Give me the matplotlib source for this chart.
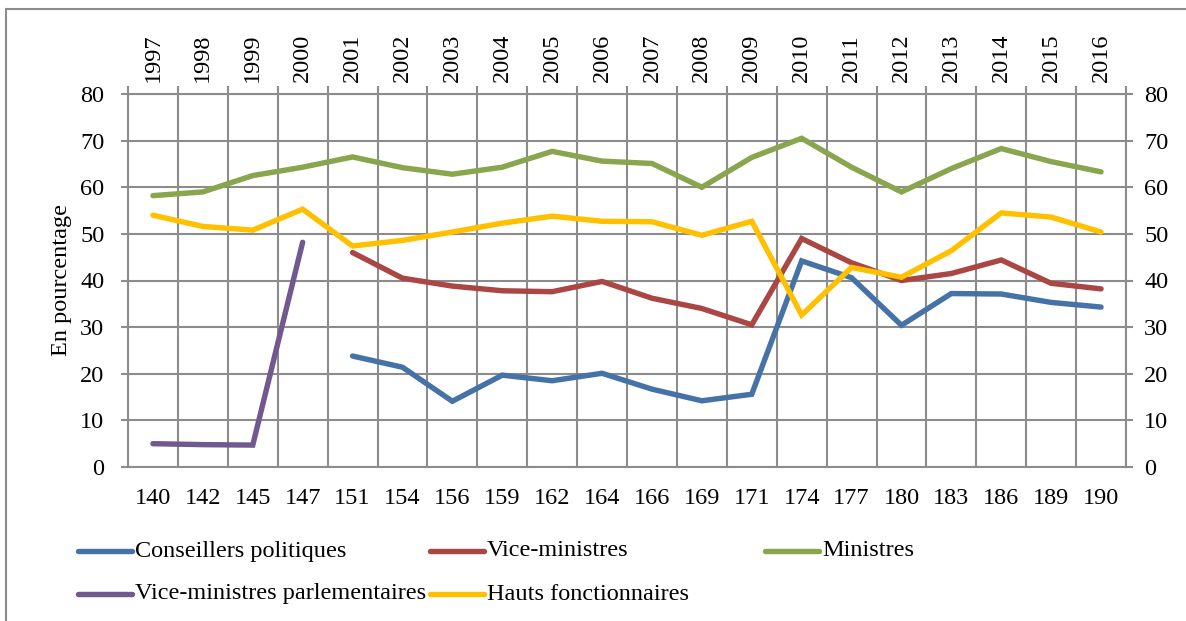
import matplotlib
matplotlib.use("Agg")
import matplotlib.pyplot as plt
from matplotlib.lines import Line2D
from matplotlib.patches import Rectangle
import numpy as np

plt.rcParams["font.family"] = ["Liberation Serif", "DejaVu Serif"]

# categories
years = [str(y) for y in range(1997, 2017)]
bottom_labels = ["140", "142", "145", "147", "151", "154", "156", "159", "162", "164",
                 "166", "169", "171", "174", "177", "180", "183", "186", "189", "190"]

# series (percent), None = no value
conseillers = [None, None, None, None, 23.8, 21.4, 14.1, 19.7, 18.5, 20.1,
               16.7, 14.2, 15.6, 44.2, 40.6, 30.4, 37.2, 37.1, 35.3, 34.3]
vice_ministres = [None, None, None, None, 46.0, 40.5, 38.8, 37.8, 37.6, 39.8,
                  36.2, 34.0, 30.5, 49.0, 43.8, 40.0, 41.5, 44.4, 39.4, 38.2]
ministres = [58.2, 59.0, 62.5, 64.3, 66.5, 64.2, 62.8, 64.3, 67.7, 65.6,
             65.1, 60.0, 66.4, 70.5, 64.3, 59.0, 64.0, 68.3, 65.5, 63.3]
vice_parl = [5.0, 4.8, 4.7, 48.2, None, None, None, None, None, None,
             None, None, None, None, None, None, None, None, None, None]
hauts = [54.0, 51.6, 50.8, 55.3, 47.4, 48.6, 50.4, 52.3, 53.8, 52.7,
         52.6, 49.7, 52.7, 32.6, 42.8, 40.7, 46.4, 54.5, 53.6, 50.4]

series = [
    ("Conseillers politiques", conseillers, "#4572A7"),
    ("Vice-ministres", vice_ministres, "#AA4643"),
    ("Ministres", ministres, "#89A54E"),
    ("Vice-ministres parlementaires", vice_parl, "#71588F"),
    ("Hauts fonctionnaires", hauts, "#FFC000"),
]

W, H = 1186, 621
fig = plt.figure(figsize=(W / 100, H / 100), dpi=100)
grid_c = "#8c8c8c"
fs = 17.5
lw = 3.9

ax = fig.add_axes([128 / W, 1 - 467 / H, (1126 - 128) / W, (467 - 94) / H])
x = np.arange(len(years))

for name, vals, col in series:
    y = np.array([np.nan if v is None else v for v in vals], dtype=float)
    ax.plot(x, y, color=col, lw=lw, solid_capstyle="round", solid_joinstyle="miter", zorder=3)

ax.set_xlim(-0.5, len(years) - 0.5)
ax.set_ylim(0, 80)
ax.set_yticks(range(0, 81, 10))
ax.set_xticks(x)
ax.set_xticklabels(bottom_labels, fontsize=fs)
ax.set_xticks(np.arange(-0.5, len(years)), minor=True)
ax.tick_params(axis="x", which="major", length=0, pad=15)
ax.tick_params(axis="x", which="minor", length=0)
ax.tick_params(axis="y", length=5, width=1.5, color=grid_c, labelsize=fs, pad=12)
ax.grid(True, axis="x", which="minor", color=grid_c, lw=1.5)
ax.grid(True, axis="y", which="major", color=grid_c, lw=1.5)
ax.set_axisbelow(True)
for s in ax.spines.values():
    s.set_color(grid_c)
    s.set_linewidth(1.5)
ax.set_ylabel("En pourcentage", fontsize=fs, labelpad=6)

# right axis
axr = ax.twinx()
axr.set_ylim(0, 80)
axr.set_yticks(range(0, 81, 10))
axr.tick_params(axis="y", length=5, width=1.5, color=grid_c, labelsize=fs, pad=8)
for s in axr.spines.values():
    s.set_visible(False)

# top axis with years
axt = ax.twiny()
axt.set_xlim(ax.get_xlim())
axt.set_xticks(x)
axt.set_xticklabels(years, rotation=90, fontsize=fs)
axt.set_xticks(np.arange(-0.5, len(years)), minor=True)
axt.tick_params(axis="x", which="major", length=0, pad=9)
axt.tick_params(axis="x", which="minor", length=6, width=1.5, color=grid_c)
for s in axt.spines.values():
    s.set_visible(False)

# legend drawn by hand to keep Excel-like spacing
legend_pos = [(78, 551), (430, 551), (765, 551), (78, 594), (430, 594)]
for (name, vals, col), (lx, ly) in zip(series, legend_pos):
    fig.add_artist(Line2D([lx / W, (lx + 54) / W], [1 - ly / H, 1 - ly / H],
                          color=col, lw=lw, solid_capstyle="round"))
    fig.text((lx + 57) / W, 1 - ly / H, name, fontsize=fs, va="center", ha="left")

# outer chart border
fig.add_artist(Rectangle((6 / W, -0.05), 1.1, 1 - 9 / H + 0.05, transform=fig.transFigure,
                         fill=False, edgecolor=grid_c, lw=1.5))

fig.savefig("out.png", dpi=100)
